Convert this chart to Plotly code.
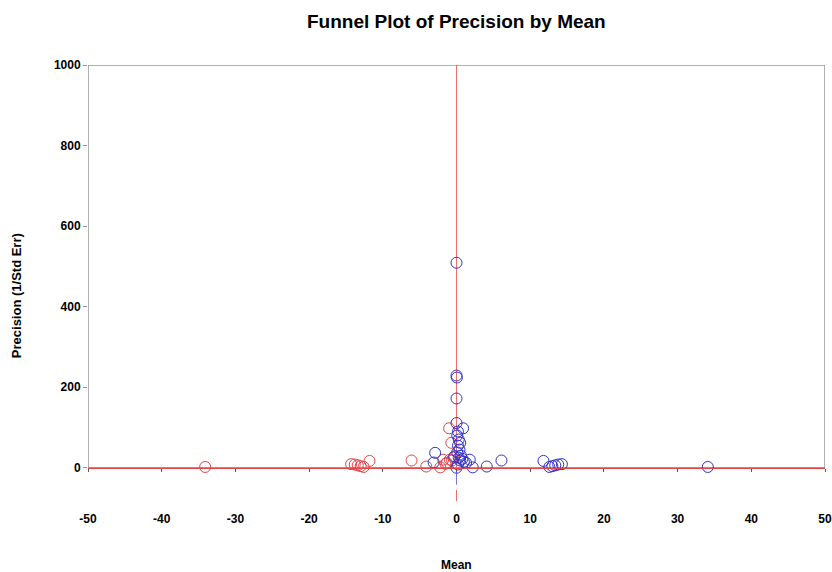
import plotly.graph_objects as go

# Observed studies (blue)
obs_mean = [34.1, 14.3, 13.8, 13.4, 13.0, 12.6, 11.8, 6.1, 4.1, 2.2, 1.8, 1.3, 0.9,
            0.0, 0.0, 0.05, 0.0, 0.0, 0.2, 0.1, 0.3, 0.5, 0.2, 0.4, 0.1, 0.6, 0.3,
            0.8, 0.5, 1.0, 0.0, -2.9, -3.1, -0.3, 0.2]
obs_prec = [2, 9, 8, 6, 4, 2, 17, 18, 3, 1, 20, 12, 98,
            509, 229, 224, 172, 111, 90, 80, 70, 62, 55, 45, 38, 30, 25,
            22, 18, 15, 0, 37, 13, 28, 8]

# Imputed studies (red)
imp_mean = [-34.1, -14.3, -13.8, -13.4, -13.0, -12.6, -11.8, -6.1, -4.1, -2.2,
            -1.8, -1.3, -1.0, -0.7, -0.9, -0.6, -0.4, -1.5]
imp_prec = [2, 9, 8, 6, 4, 2, 17, 18, 3, 1,
            20, 12, 98, 62, 20, 18, 25, 10]

# Summary lines
combined_mean = 0.0
observed_mean = 0.0
adjusted_mean = 0.0
y_max = 1000
obs_seg = [0, -42]
adj_seg = [-55, -83]

x_ticks = [-50, -40, -30, -20, -10, 0, 10, 20, 30, 40, 50]
y_ticks = [0, 200, 400, 600, 800, 1000]

RED = "rgb(226,70,70)"
RED_LINE = "rgb(236,110,110)"
BLUE = "rgb(50,50,200)"
GRAY = "rgb(150,150,150)"
FONT = "Liberation Sans, Arial, sans-serif"

fig = go.Figure()

# vertical mean line
fig.add_trace(go.Scatter(x=[combined_mean, combined_mean], y=[0, y_max], mode="lines",
                         line=dict(color=RED_LINE, width=1), showlegend=False, hoverinfo="skip"))
fig.add_trace(go.Scatter(x=[observed_mean, observed_mean], y=obs_seg, mode="lines",
                         line=dict(color="rgb(120,120,220)", width=1), showlegend=False, hoverinfo="skip"))
fig.add_trace(go.Scatter(x=[adjusted_mean, adjusted_mean], y=adj_seg, mode="lines",
                         line=dict(color=RED_LINE, width=1), showlegend=False, hoverinfo="skip"))

fig.add_trace(go.Scatter(x=imp_mean, y=imp_prec, mode="markers",
                         marker=dict(symbol="circle-open", size=11, color=RED, line=dict(width=1)),
                         showlegend=False))
fig.add_trace(go.Scatter(x=obs_mean, y=obs_prec, mode="markers",
                         marker=dict(symbol="circle-open", size=11, color=BLUE, line=dict(width=1)),
                         showlegend=False))
# dummy trace for the zero-line axis
fig.add_trace(go.Scatter(x=[], y=[], xaxis="x2", showlegend=False))

y_lo = -90
pos0 = (0 - y_lo) / (y_max - y_lo)

fig.update_layout(
    width=832, height=572,
    margin=dict(l=88, r=7, t=65, b=68, autoexpand=False),
    paper_bgcolor="white", plot_bgcolor="white",
    font=dict(family=FONT, color="black"),
    title=dict(text="<b>Funnel Plot of Precision by Mean</b>", x=0.5485, xanchor="center",
               y=0.962, yanchor="middle", font=dict(size=19, family=FONT)),
    xaxis=dict(range=[-50, 50], tickvals=x_ticks, ticktext=[f"<b>{v}</b>" for v in x_ticks],
               showgrid=False, zeroline=False, showline=False, ticks="", automargin=False,
               tickfont=dict(size=12), ticklabelstandoff=6),
    xaxis2=dict(range=[-50, 50], overlaying="x", anchor="free", position=pos0, side="bottom",
                tickvals=x_ticks, showticklabels=False, showgrid=False, zeroline=False,
                showline=True, linecolor=RED, linewidth=1, ticks="outside", ticklen=3,
                tickcolor="rgb(90,90,90)", tickwidth=1, automargin=False),
    yaxis=dict(range=[y_lo, y_max], tickvals=y_ticks, ticktext=[f"<b>{v}</b>" for v in y_ticks],
               showgrid=False, zeroline=False, showline=False, ticks="outside", ticklen=4,
               tickcolor=GRAY, tickfont=dict(size=12), automargin=False),
    shapes=[dict(type="rect", xref="x", yref="y", x0=-50, x1=50, y0=0, y1=y_max,
                 line=dict(color=GRAY, width=1.5), layer="below")],
    annotations=[
        dict(text="<b>Precision (1/Std Err)</b>", xref="paper", yref="paper", x=-0.096, y=0.474,
             textangle=-90, showarrow=False, xanchor="center", yanchor="middle",
             font=dict(size=13)),
        dict(text="<b>Mean</b>", xref="paper", yref="paper", x=0.5, y=-0.138,
             showarrow=False, xanchor="center", yanchor="middle", font=dict(size=12)),
    ],
)

fig.write_html("out.html", config={"displayModeBar": False},
               post_script="document.body.style.margin='0';document.body.style.overflow='hidden';")
